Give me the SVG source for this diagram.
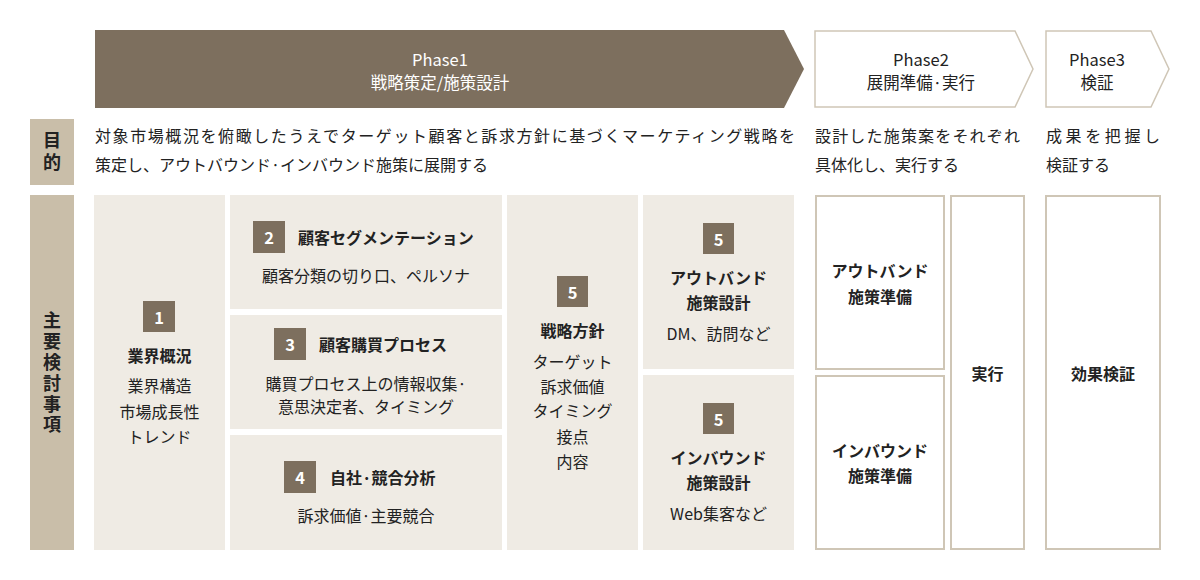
<svg xmlns="http://www.w3.org/2000/svg" width="1200" height="580" viewBox="0 0 1200 580">
<style>
text{font-family:"Noto Sans CJK JP","Noto Sans",sans-serif;fill:#222;font-size:16px;dominant-baseline:central}
.c{text-anchor:middle}
.b{font-weight:bold}
.ph{fill:#fff;font-size:16.5px;text-anchor:middle}
.ph2{fill:#222;font-size:16.5px;text-anchor:middle}
.lt{fill:#efebe4}
.dk{fill:#7d6f5e}
.tag{fill:#c9bea9}
.ob{fill:#fff;stroke:#cfc6b6;stroke-width:2}
.num{fill:#fff;font-weight:bold;text-anchor:middle;font-size:16.5px}
.vt{font-weight:bold;font-size:18px;text-anchor:middle;writing-mode:vertical-rl;dominant-baseline:auto}
</style>
<rect width="1200" height="580" fill="#fff"/>

<g id="phase1">
<polygon class="dk" points="95,30 784,30 804,69 784,108 95,108"/>
<text class="ph" x="440" y="59">Phase1</text>
<text class="ph" x="440" y="82">戦略策定/施策設計</text>
</g>
<g id="phase2">
<polygon points="815,31 1015,31 1033,69 1015,107 815,107" fill="#fff" stroke="#cfc6b6" stroke-width="1.5"/>
<text class="ph2" x="921" y="59">Phase2</text>
<text class="ph2" x="921" y="82">展開準備·実行</text>
</g>
<g id="phase3">
<polygon points="1046,31 1151,31 1169,69 1151,107 1046,107" fill="#fff" stroke="#cfc6b6" stroke-width="1.5"/>
<text class="ph2" x="1097" y="59">Phase3</text>
<text class="ph2" x="1097" y="82">検証</text>
</g>

<g id="purpose-label">
<rect class="tag" x="30" y="119" width="44" height="66"/>
<text class="vt" x="52" y="153" letter-spacing="4">目的</text>
</g>
<g id="purpose-texts">
<text x="95" y="135" font-size="16.5" textLength="700" lengthAdjust="spacing">対象市場概況を俯瞰したうえでターゲット顧客と訴求方針に基づくマーケティング戦略を</text>
<text x="95" y="164" font-size="16.5">策定し、アウトバウンド·インバウンド施策に展開する</text>
<text x="815" y="135" font-size="16.5" textLength="205" lengthAdjust="spacing">設計した施策案をそれぞれ</text>
<text x="815" y="164" font-size="16.5">具体化し、実行する</text>
<text x="1046" y="135" font-size="16.5" textLength="114" lengthAdjust="spacing">成果を把握し</text>
<text x="1046" y="164" font-size="16.5">検証する</text>
</g>

<g id="main-label">
<rect class="tag" x="30" y="195" width="44" height="355"/>
<text class="vt" x="52" y="374" letter-spacing="2.8">主要検討事項</text>
</g>

<g id="node1">
<rect class="lt" x="94" y="195" width="131" height="355"/>
<rect class="dk" x="143" y="301" width="32" height="31"/>
<text class="num" x="159" y="316.5">1</text>
<text class="c b" x="159.5" y="355">業界概況</text>
<text class="c" x="159.5" y="385">業界構造</text>
<text class="c" x="159.5" y="411">市場成長性</text>
<text class="c" x="159.5" y="436">トレンド</text>
</g>

<g id="node2">
<rect class="lt" x="230" y="195" width="272" height="114"/>
<rect class="dk" x="253" y="221" width="32" height="32"/>
<text class="num" x="269" y="237">2</text>
<text class="b" x="298" y="237">顧客セグメンテーション</text>
<text class="c" x="366" y="275">顧客分類の切り口、ペルソナ</text>
</g>

<g id="node3">
<rect class="lt" x="230" y="315" width="272" height="114"/>
<rect class="dk" x="274" y="328" width="32" height="32"/>
<text class="num" x="290" y="344">3</text>
<text class="b" x="319" y="344">顧客購買プロセス</text>
<text class="c" x="366" y="383">購買プロセス上の情報収集·</text>
<text class="c" x="366" y="406">意思決定者、タイミング</text>
</g>

<g id="node4">
<rect class="lt" x="230" y="435" width="272" height="115"/>
<rect class="dk" x="284" y="461" width="32" height="32"/>
<text class="num" x="300" y="477">4</text>
<text class="b" x="330" y="477">自社·競合分析</text>
<text class="c" x="366" y="515">訴求価値·主要競合</text>
</g>

<g id="node5-strategy">
<rect class="lt" x="507" y="195" width="131" height="355"/>
<rect class="dk" x="557" y="276" width="31" height="31"/>
<text class="num" x="572.5" y="291.5">5</text>
<text class="c b" x="572.5" y="330">戦略方針</text>
<text class="c" x="572.5" y="361">ターゲット</text>
<text class="c" x="572.5" y="386">訴求価値</text>
<text class="c" x="572.5" y="410">タイミング</text>
<text class="c" x="572.5" y="436">接点</text>
<text class="c" x="572.5" y="461">内容</text>
</g>

<g id="node5-outbound">
<rect class="lt" x="643" y="195" width="151" height="174"/>
<rect class="dk" x="703" y="223" width="31" height="31"/>
<text class="num" x="718.5" y="238.5">5</text>
<text class="c b" x="718.5" y="277">アウトバンド</text>
<text class="c b" x="718.5" y="302">施策設計</text>
<text class="c" x="718.5" y="333">DM、訪問など</text>
</g>

<g id="node5-inbound">
<rect class="lt" x="643" y="375" width="151" height="175"/>
<rect class="dk" x="703" y="403" width="31" height="31"/>
<text class="num" x="718.5" y="418.5">5</text>
<text class="c b" x="718.5" y="457">インバウンド</text>
<text class="c b" x="718.5" y="482">施策設計</text>
<text class="c" x="718.5" y="513">Web集客など</text>
</g>

<g id="prep-outbound">
<rect class="ob" x="816" y="196" width="128" height="173"/>
<text class="c b" x="880" y="270">アウトバンド</text>
<text class="c b" x="880" y="296">施策準備</text>
</g>

<g id="prep-inbound">
<rect class="ob" x="816" y="376" width="128" height="173"/>
<text class="c b" x="880" y="450">インバウンド</text>
<text class="c b" x="880" y="475">施策準備</text>
</g>

<g id="execute">
<rect class="ob" x="951" y="196" width="73" height="353"/>
<text class="c b" x="987.5" y="373">実行</text>
</g>

<g id="verify">
<rect class="ob" x="1046" y="196" width="114" height="353"/>
<text class="c b" x="1103" y="373">効果検証</text>
</g>

<g id="connectors"></g>
</svg>
